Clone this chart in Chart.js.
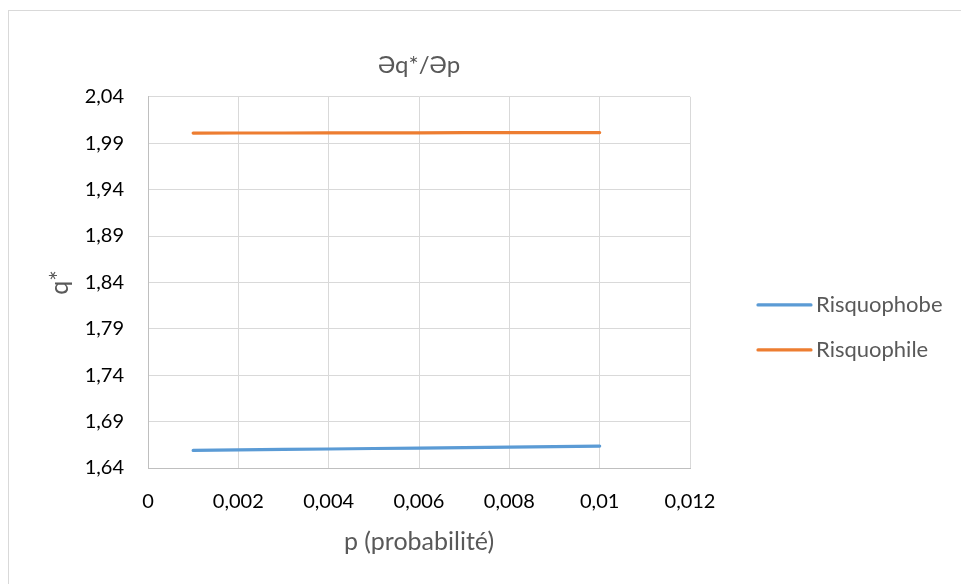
<!DOCTYPE html>
<html>
<head>
<meta charset="utf-8">
<title>Əq*/Əp</title>
<script src="https://cdn.jsdelivr.net/npm/chart.js@4/dist/chart.umd.min.js"></script>
<style>
  html, body { margin: 0; padding: 0; background: #fff; }
  #wrap { position: relative; width: 961px; height: 584px; overflow: hidden; }
  #frame { position: absolute; left: 8px; top: 10px; width: 1000px; height: 1000px;
           border: 1px solid #d9d9d9; box-sizing: border-box; }
  #chart { position: absolute; left: 0; top: 0; }
</style>
</head>
<body>
<div id="wrap">
  <div id="frame"></div>
  <canvas id="chart" width="961" height="584"></canvas>
</div>
<script>
// p values (probability) shared by both series
var probabilites = [0.001, 0.002, 0.003, 0.004, 0.005, 0.006, 0.007, 0.008, 0.009, 0.01];

// q* for each profile
var risquophobe = [1.6590, 1.6595, 1.6600, 1.6605, 1.6610, 1.6615, 1.6620, 1.6626, 1.6631, 1.6636];
var risquophile = [2.0009, 2.0010, 2.0010, 2.0011, 2.0012, 2.0012, 2.0013, 2.0013, 2.0014, 2.0015];

// axis ticks
var xTicks = [0, 0.002, 0.004, 0.006, 0.008, 0.01, 0.012];
var xTickLabels = ['0', '0,002', '0,004', '0,006', '0,008', '0,01', '0,012'];
var yTicks = [1.64, 1.69, 1.74, 1.79, 1.84, 1.89, 1.94, 1.99, 2.04];
var yTickLabels = ['1,64', '1,69', '1,74', '1,79', '1,84', '1,89', '1,94', '1,99', '2,04'];

var FONT = 'Lato, "Open Sans", sans-serif';
var TEXT_GREY = '#595959';

function points(ys) {
    return probabilites.map(function(p, i) { return { x: p, y: ys[i] }; });
}

function serie(label, ys, colour) {
    return {
        label: label,
        data: points(ys),
        showLine: true,
        borderColor: colour,
        backgroundColor: colour,
        borderWidth: 3.2,
        borderCapStyle: 'round',
        pointRadius: 0,
        pointHoverRadius: 0,
        tension: 0
    };
}

// Excel style legend: line sample followed by the series name, right of the plot
var sideLegend = {
    id: 'sideLegend',
    afterDraw: function(chart) {
        var ctx = chart.ctx;
        var area = chart.chartArea;
        var x0 = area.right + 68;
        var y0 = (area.top + area.bottom) / 2 + 22.5;
        ctx.save();
        chart.data.datasets.forEach(function(ds, i) {
            var y = y0 + i * 45;
            ctx.strokeStyle = ds.borderColor;
            ctx.lineWidth = 3.2;
            ctx.lineCap = 'round';
            ctx.beginPath();
            ctx.moveTo(x0, y);
            ctx.lineTo(x0 + 53, y);
            ctx.stroke();
            ctx.fillStyle = TEXT_GREY;
            ctx.font = '22px ' + FONT;
            ctx.textBaseline = 'middle';
            ctx.textAlign = 'left';
            ctx.fillText(ds.label, x0 + 58, y);
        });
        ctx.restore();
    }
};

new Chart(document.getElementById('chart'), {
    type: 'scatter',
    data: {
        datasets: [
            serie('Risquophobe', risquophobe, '#5b9bd5'),
            serie('Risquophile', risquophile, '#ed7d31')
        ]
    },
    plugins: [sideLegend],
    options: {
        responsive: false,
        animation: false,
        events: [],
        layout: { padding: { left: 0, right: 271, top: 0, bottom: 0 } },
        plugins: {
            legend: { display: false },
            tooltip: { enabled: false },
            title: {
                display: true,
                fullSize: false,
                text: 'Əq*/Əp',
                color: TEXT_GREY,
                font: { family: FONT, size: 24, weight: 'normal', lineHeight: 1.2 },
                padding: { top: 51, bottom: 17 }
            }
        },
        scales: {
            x: {
                type: 'linear',
                min: 0,
                max: 0.012,
                afterBuildTicks: function(scale) {
                    scale.ticks = xTicks.map(function(v) { return { value: v }; });
                },
                afterFit: function(scale) { scale.height = 116; },
                ticks: {
                    autoSkip: false,
                    maxRotation: 0,
                    padding: 22,
                    color: '#000',
                    font: { family: FONT, size: 20 },
                    callback: function(v, i) { return xTickLabels[i]; }
                },
                grid: { color: '#d9d9d9', lineWidth: 1, drawTicks: false },
                border: { color: '#bfbfbf', width: 1 },
                title: {
                    display: true,
                    text: 'p (probabilité)',
                    color: TEXT_GREY,
                    font: { family: FONT, size: 25, lineHeight: 1.2 },
                    padding: { top: 0, bottom: 27 }
                }
            },
            y: {
                type: 'linear',
                min: 1.64,
                max: 2.04,
                afterBuildTicks: function(scale) {
                    scale.ticks = yTicks.map(function(v) { return { value: v }; });
                },
                afterFit: function(scale) { scale.width = 148; },
                ticks: {
                    autoSkip: false,
                    padding: 24,
                    color: '#000',
                    font: { family: FONT, size: 20 },
                    callback: function(v, i) { return yTickLabels[i]; }
                },
                grid: { color: '#d9d9d9', lineWidth: 1, drawTicks: false },
                border: { color: '#bfbfbf', width: 1 },
                title: {
                    display: true,
                    text: 'q*',
                    color: TEXT_GREY,
                    font: { family: FONT, size: 25, lineHeight: 1.2 },
                    padding: { top: 45, bottom: 0 }
                }
            }
        }
    }
});
</script>
</body>
</html>
